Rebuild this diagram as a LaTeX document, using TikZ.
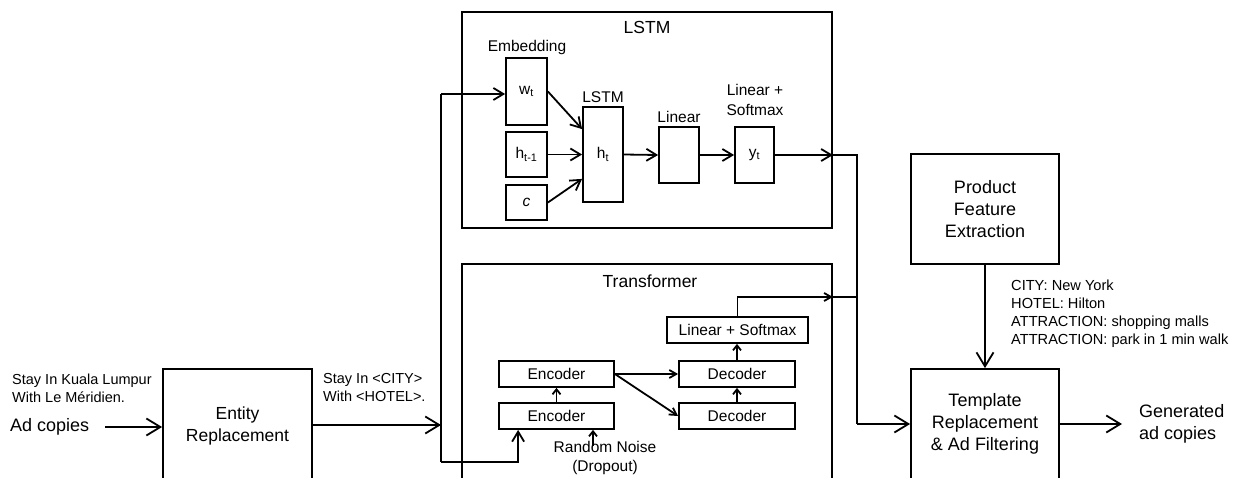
\documentclass[tikz,border=0pt]{standalone}
\usepackage{fontspec}
\setmainfont{Liberation Sans}
\usetikzlibrary{arrows.meta}
\begin{document}
\begin{tikzpicture}[x=1pt,y=-1pt,
  box/.style={draw, line width=1.8pt, inner sep=0pt, align=center},
  ln/.style={line width=1.8pt},
  big/.style={line width=1.8pt, -{Straight Barb[length=14pt,width=17pt]}},
  mid/.style={line width=1.8pt, -{Straight Barb[length=10pt,width=12pt]}},
  sml/.style={line width=1.8pt, -{Straight Barb[length=7pt,width=8pt]}},
  tny/.style={line width=1.8pt, -{Straight Barb[length=5pt,width=8pt]}},
  lbl/.style={inner sep=0pt, align=center},
  fa/.style={font=\fontsize{14.5}{18}\selectfont},
  fb/.style={font=\fontsize{15.5}{20}\selectfont},
  fc/.style={font=\fontsize{17.5}{22}\selectfont},
  fd/.style={font=\fontsize{18}{22}\selectfont}]
\useasboundingbox (0,0) rectangle (1234,477);
\clip (0,0) rectangle (1234,477);

% Left part
\node[lbl, fd, anchor=west] (adin) at (10,427) {Ad copies};
\node[lbl, fa, anchor=west, align=left] (ex1) at (12,388) {Stay In Kuala Lumpur\\With Le Méridien.};
\node[box, fc, minimum width=149pt, minimum height=114pt] (ent) at (237.5,426) {Entity\\Replacement};
\node[lbl, fa, anchor=west, align=left] (ex2) at (323,388) {Stay In <CITY>\\With <HOTEL>.};
\coordinate (adst) at (105,427);
\draw[big] (adst) -- (ent.west |- adst);

% LSTM block
\node[box, minimum width=370pt, minimum height=216pt] (lstmbox) at (647,120) {};
\node[lbl, fc] (lstmtitle) at (647,27) {LSTM};
\node[lbl, fb] (emb) at (527,47) {Embedding};
\node[box, fb, minimum width=41pt, minimum height=67pt] (wt) at (526.5,91.5) {w\textsubscript{t}};
\node[box, fb, minimum width=41pt, minimum height=45pt] (ht1) at (526.5,154.5) {h\textsubscript{t-1}};
\node[box, fb, minimum width=41pt, minimum height=35pt] (cc) at (526.5,202.5) {\textit{c}};
\node[lbl, fb] (lstml) at (603,97) {LSTM};
\node[box, fb, minimum width=40pt, minimum height=95pt] (ht) at (603,154.5) {h\textsubscript{t}};
\node[lbl, fb] (linl) at (679,117) {Linear};
\node[box, minimum width=40pt, minimum height=56pt] (lin) at (679,155) {};
\node[lbl, fb] (lsl) at (755,100) {Linear +\\Softmax};
\node[box, fb, minimum width=39pt, minimum height=56pt] (yt) at (754.5,155) {y\textsubscript{t}};

\draw[mid] (wt.east) -- ([yshift=-23pt]ht.north west);
\draw[mid] (ht1.east) -- (ht.west |- ht1.east);
\draw[mid] (cc.east) -- ([yshift=24pt]ht.south west);
\draw[mid] (ht.east) -- (lin.west);
\draw[mid] (lin.east) -- (yt.west);

% Transformer block
\node[box, minimum width=370pt, minimum height=236pt] (trbox) at (647,382) {};
\node[lbl, fc] (trtitle) at (650,281) {Transformer};
\node[box, fb, minimum width=141pt, minimum height=26pt] (ls) at (737.5,330) {Linear + Softmax};
\node[box, fb, minimum width=116pt, minimum height=26pt] (dec1) at (737,374) {Decoder};
\node[box, fb, minimum width=116pt, minimum height=26pt] (dec2) at (737,416) {Decoder};
\node[box, fb, minimum width=115pt, minimum height=26pt] (enc1) at (556.5,374) {Encoder};
\node[box, fb, minimum width=115pt, minimum height=26pt] (enc2) at (556.5,416) {Encoder};
\node[lbl, font=\fontsize{15.5}{19}\selectfont] (noise) at (605,458) {Random Noise\\(Dropout)};

\draw[tny] (enc2.north) -- (enc1.south);
\draw[tny] (dec2.north) -- (dec1.south);
\draw[tny] (dec1.north) -- (dec1.north |- ls.south);
\draw[sml] (enc1.east) -- (dec1.west);
\draw[sml] (enc1.east) -- (dec2.west);
\coordinate (nz) at (593,446);
\draw[tny] (nz) -- (nz |- enc2.south);

% Left distribution line
\coordinate (jt) at (441,94);
\coordinate (ja) at (441,425);
\coordinate (jb) at (441,462);
\draw[ln] (jt) -- (jb);
\draw[big] (ent.east |- ja) -- (ja);
\draw[mid] (jt) -- (wt.west |- jt);
\draw[mid] (jb) -| ([xshift=20pt]enc2.south west);

% Right product blocks
\node[box, fd, minimum width=148pt, minimum height=110pt] (prod) at (985,209) {Product\\Feature\\Extraction};
\node[box, fd, minimum width=148pt, minimum height=110pt] (tmpl) at (985,424) {Template\\Replacement\\\& Ad Filtering};
\node[lbl, font=\fontsize{14.6}{18}\selectfont, anchor=west, align=left] (feat) at (1011,314) {CITY: New York\\HOTEL: Hilton\\ATTRACTION: shopping malls\\ATTRACTION: park in 1 min walk};
\node[lbl, fd, anchor=west, align=left] (gen) at (1139,424) {Generated\\ad copies};
\coordinate (outp) at (1122,424);

% Right merging line
\coordinate (jr1) at (857,155);
\coordinate (jr2) at (857,297);
\coordinate (jr3) at (857,424);
\draw[ln] (yt.east) -- (jr1) -- (jr3);
\draw[mid] (yt.east) -- (lstmbox.east |- yt.east);
\draw[ln] (ls.north) |- (jr2);
\draw[sml] (ls.north) |- (trbox.east |- jr2);
\draw[big] (jr3) -- (tmpl.west |- jr3);
\draw[big] (prod.south) -- (tmpl.north);
\draw[big] (tmpl.east |- outp) -- (outp);
\end{tikzpicture}
\end{document}
